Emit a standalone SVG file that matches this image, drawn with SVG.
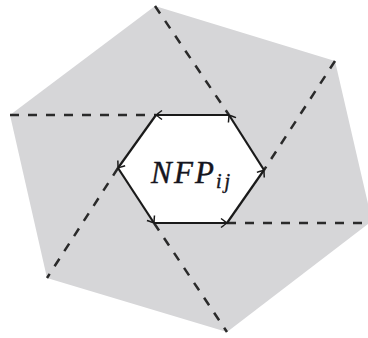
<svg xmlns="http://www.w3.org/2000/svg" width="368" height="338" viewBox="0 0 368 338">
  <style>
    .outer { fill: #d6d6d8; stroke: none; }
    .dash { fill: none; stroke: #2a2a2a; stroke-width: 2.5; stroke-dasharray: 9 9; }
    .edge { fill: none; stroke: #1a1a1a; stroke-width: 2.2; marker-end: url(#arr); }
    .lbl { font-family: "Liberation Serif", "DejaVu Serif", serif; font-style: italic; fill: #151520; stroke: #151520; stroke-width: 0.4; }
  </style>
  <defs>
    <marker id="arr" viewBox="-8 -6 10 12" markerWidth="10" markerHeight="12" refX="0" refY="0" orient="auto" markerUnits="userSpaceOnUse">
      <path d="M-6,-4.5 Q-1.5,-1 0,0 Q-1.5,1 -6,4.5" fill="none" stroke="#1a1a1a" stroke-width="1.5"/>
    </marker>
  </defs>
  <g id="outer-region">
    <polygon class="outer" points="155,6 335,61 372,221 227,332 47,278 10,115"/>
  </g>
  <g id="connectors">
    <line class="dash" x1="10" y1="115" x2="156" y2="115"/>
    <line class="dash" x1="155" y1="6" x2="229" y2="115"/>
    <line class="dash" x1="335" y1="61" x2="264" y2="170"/>
    <line class="dash" x1="227" y1="223" x2="368" y2="223"/>
    <line class="dash" x1="154" y1="223" x2="227" y2="332"/>
    <line class="dash" x1="118" y1="168" x2="47" y2="278"/>
  </g>
  <g id="nfp">
    <polygon points="156,115 229,115 264,170 227,223 154,223 118,168" fill="#ffffff" stroke="none"/>
    <line class="edge" x1="229" y1="115" x2="156" y2="115"/>
    <line class="edge" x1="156" y1="115" x2="118" y2="168"/>
    <line class="edge" x1="118" y1="168" x2="154" y2="223"/>
    <line class="edge" x1="154" y1="223" x2="227" y2="223"/>
    <line class="edge" x1="227" y1="223" x2="264" y2="170"/>
    <line class="edge" x1="264" y1="170" x2="229" y2="115"/>
    <text class="lbl" x="151" y="182.5" font-size="31" textLength="63" lengthAdjust="spacing">NFP</text>
    <text class="lbl" x="216" y="188" font-size="20" textLength="14" lengthAdjust="spacing">ij</text>
  </g>
</svg>
